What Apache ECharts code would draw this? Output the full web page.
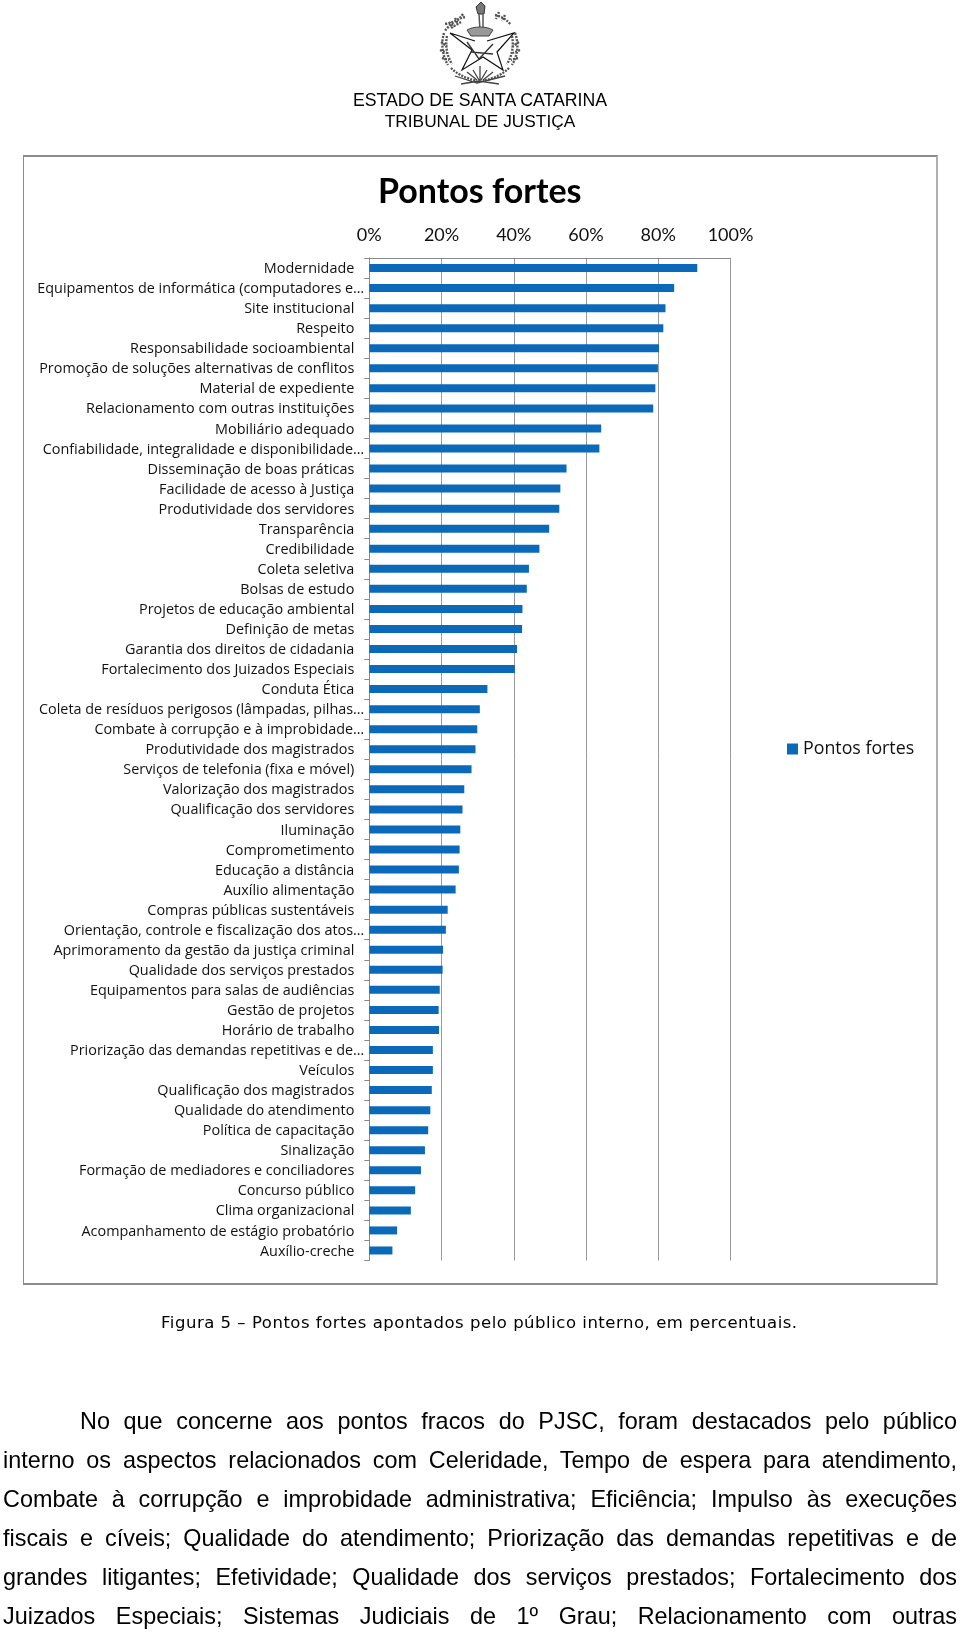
<!DOCTYPE html>
<html lang="pt"><head><meta charset="utf-8">
<script src="https://cdn.jsdelivr.net/npm/echarts@6/dist/echarts.min.js"></script>
<style>
html,body{margin:0;padding:0;background:#fff;width:960px;height:1632px;overflow:hidden}
#chart{position:absolute;left:0;top:0;width:960px;height:1632px}
.t{position:absolute;color:#000;white-space:nowrap;z-index:2}
.h{font:17.7px "Liberation Sans",sans-serif;left:0;width:960px;text-align:center}
.p{font:23.4px/28px "Liberation Sans",sans-serif;left:3px;width:954px;white-space:normal;text-align:justify;text-align-last:justify;height:28px;overflow:hidden}
.cap{font:16.5px/20px "DejaVu Sans",sans-serif;left:161px;letter-spacing:.52px}
#frame{position:absolute;left:23px;top:155px;width:912px;height:1126px;border:1px solid #8c8c8c;border-top:2px solid #8c8c8c;border-bottom:2px solid #8c8c8c;border-right:2px solid #b0b0b0;z-index:0}
svg{position:absolute;left:425px;top:0;z-index:2}
</style></head><body>
<div id="frame"></div>
<div id="chart"></div>
<svg width="110" height="92" viewBox="0 0 110 92" fill="none" stroke="#222">
<path d="M56 2l-5 5 2 7 6 0 1-8z" fill="#777" stroke="#333"/>
<path d="M54 14l1 16M58 14l0 16" stroke="#555" stroke-width="1.5"/>
<path d="M25 33L50 41M62 41L89 33L72 52L78 70L58 57L37 70L47 50L25 33" stroke="#111" stroke-width="1.2"/>
<path d="M42 42l12 17 14-15M46 52l22 2" stroke="#333" stroke-width="1.4"/>
<path d="M40 17c-8 2-16 8-20 14M38 14c-4 6-8 8-18 10M19 33c-3 10-2 22 4 32M16 42l6 4M15 50l7 3M17 58l7 2M24 22l5 5M30 18l3 6M26 68c6 6 14 10 26 13M22 36c-2 10 0 20 5 28M36 22l-10 6" stroke="#555" stroke-width="2.4" stroke-dasharray="2 1.2"/>
<path d="M70 15c8 2 12 5 16 10M90 33c4 10 3 22-3 32M94 42l-6 4M95 50l-7 3M93 58l-7 2M84 68c-6 6-14 10-26 13M74 12l-3 7M80 15l-3 6M87 36c2 10 0 20-5 28" stroke="#555" stroke-width="2.4" stroke-dasharray="2 1.2"/>
<path d="M30 76l22 7 28-7M36 84l18-3 20 3M55 66l0 16M48 70l6 10M62 70l-6 10M42 72l10 8M68 72l-10 8" stroke="#444" stroke-width="1.3"/>
<path d="M42 30c6-4 20-4 26 0l-4 6-18 0z" fill="#999" stroke="#444"/>
</svg>
<div class="t h" style="top:90px">ESTADO DE SANTA CATARINA</div>
<div class="t h" style="top:111px;font-size:17.3px">TRIBUNAL DE JUSTIÇA</div>
<div class="t cap" style="top:1313px">Figura 5 – Pontos fortes apontados pelo público interno, em percentuais.</div>
<div class="t p" style="top:1407px;left:80px;width:877px">No que concerne aos pontos fracos do PJSC, foram destacados pelo público</div>
<div class="t p" style="top:1446px">interno os aspectos relacionados com Celeridade, Tempo de espera para atendimento,</div>
<div class="t p" style="top:1485px">Combate à corrupção e improbidade administrativa; Eficiência; Impulso às execuções</div>
<div class="t p" style="top:1524px">fiscais e cíveis; Qualidade do atendimento; Priorização das demandas repetitivas e de</div>
<div class="t p" style="top:1563px">grandes litigantes; Efetividade; Qualidade dos serviços prestados; Fortalecimento dos</div>
<div class="t p" style="top:1602px">Juizados Especiais; Sistemas Judiciais de 1º Grau; Relacionamento com outras</div>
<script>
const categories = [
"Modernidade","Equipamentos de informática (computadores e…","Site institucional","Respeito",
"Responsabilidade socioambiental","Promoção de soluções alternativas de conflitos","Material de expediente",
"Relacionamento com outras instituições","Mobiliário adequado","Confiabilidade, integralidade e disponibilidade…",
"Disseminação de boas práticas","Facilidade de acesso à Justiça","Produtividade dos servidores","Transparência",
"Credibilidade","Coleta seletiva","Bolsas de estudo","Projetos de educação ambiental","Definição de metas",
"Garantia dos direitos de cidadania","Fortalecimento dos Juizados Especiais","Conduta Ética",
"Coleta de resíduos perigosos (lâmpadas, pilhas…","Combate à corrupção e à improbidade…","Produtividade dos magistrados",
"Serviços de telefonia (fixa e móvel)","Valorização dos magistrados","Qualificação dos servidores","Iluminação",
"Comprometimento","Educação a distância","Auxílio alimentação","Compras públicas sustentáveis",
"Orientação, controle e fiscalização dos atos…","Aprimoramento da gestão da justiça criminal",
"Qualidade dos serviços prestados","Equipamentos para salas de audiências","Gestão de projetos","Horário de trabalho",
"Priorização das demandas repetitivas e de…","Veículos","Qualificação dos magistrados","Qualidade do atendimento",
"Política de capacitação","Sinalização","Formação de mediadores e conciliadores","Concurso público",
"Clima organizacional","Acompanhamento de estágio probatório","Auxílio-creche"];
const values = [90.8,84.4,82.0,81.4,80.2,79.9,79.2,78.6,64.2,63.7,54.6,52.9,52.6,49.8,47.1,44.2,43.6,42.4,42.3,40.9,40.3,
32.7,30.6,29.9,29.4,28.3,26.3,25.8,25.2,25.0,24.8,23.9,21.7,21.2,20.4,20.3,19.5,19.2,19.3,17.6,17.6,17.3,16.9,16.3,15.4,14.3,12.7,11.5,7.7,6.4];
const seriesName = "Pontos fortes";
const chartFont = "Open Sans";
const chart = echarts.init(document.getElementById('chart'), null, {renderer:'canvas'});
chart.setOption({
  animation:false,
  backgroundColor:'transparent',
  title:{text:seriesName,left:378,top:175,padding:0,textStyle:{fontFamily:"Lato",fontSize:34,fontWeight:'bold',color:'#000'}},
  legend:{data:[seriesName],left:787,top:740,padding:0,icon:'rect',itemWidth:11,itemHeight:11,itemGap:5,
    textStyle:{fontFamily:chartFont,fontSize:17.8,color:'#111'}},
  grid:{left:369.3,right:229.5,top:258,bottom:371.5,containLabel:false},
  xAxis:{type:'value',position:'top',min:0,max:100,interval:20,
    axisLine:{show:true,lineStyle:{color:'#8a8a8a',width:1}},
    axisTick:{show:false},
    axisLabel:{margin:14,formatter:'{value}%',fontFamily:"Lato",fontSize:18,color:'#111',hideOverlap:false},
    splitLine:{show:true,lineStyle:{color:'#9a9a9a',width:1}}},
  yAxis:{type:'category',inverse:true,data:categories,
    axisLine:{show:true,lineStyle:{color:'#8a8a8a',width:1}},
    axisTick:{show:true,length:5,alignWithLabel:false,lineStyle:{color:'#8a8a8a'}},
    axisLabel:{interval:0,margin:5,color:'#111',fontFamily:chartFont,fontSize:14.4,hideOverlap:false,
      formatter:v=>'{t|'+v+'}'+(v.endsWith('…')?'':'{s|}'),
      rich:{t:{fontFamily:chartFont,fontSize:14.4,color:'#111',padding:[2,0,0,0]},s:{width:10}}},
    splitLine:{show:false}},
  series:[{name:seriesName,type:'bar',data:values,barWidth:8,itemStyle:{color:'#0a69b8'}}]
});
</script>
</body></html>
